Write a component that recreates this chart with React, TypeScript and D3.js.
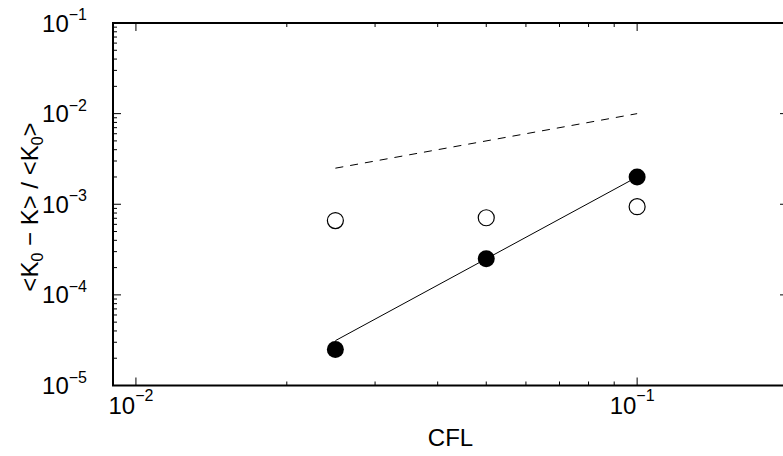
import React from "react";
import * as d3 from "d3";

const cfl = [0.025, 0.05, 0.1];
const errFilled = [2.5e-5, 2.5e-4, 2.0e-3];
const errOpen = [6.6e-4, 7.1e-4, 9.4e-4];
const slope3X = [0.025, 0.1];
const slope3Y = [3.125e-5, 2.0e-3];
const slope1X = [0.025, 0.1];
const slope1Y = [2.5e-3, 1.0e-2];
const xMajor = [0.01, 0.1];
const xMajorExp = ["−2", "−1"];
const yMajor = [1e-5, 1e-4, 1e-3, 1e-2, 1e-1];
const yMajorExp = ["−5", "−4", "−3", "−2", "−1"];

const W = 783, H = 456;
const L = 113, R = 788, T = 23, B = 385.5;
const FONT = "'Liberation Sans', Arial, Helvetica, sans-serif";

export default function App() {
  const x = d3.scaleLog().domain([0.009, 0.2]).range([L, R]);
  const y = d3.scaleLog().domain([1e-5, 1e-1]).range([B, T]);

  const xMinor: number[] = [];
  for (const dec of [0.001, 0.01, 0.1]) for (let k = 2; k <= 9; k++) {
    const v = k * dec;
    if (v > 0.009 && v < 0.2) xMinor.push(v);
  }
  const yMinor: number[] = [];
  for (const dec of [1e-5, 1e-4, 1e-3, 1e-2]) for (let k = 2; k <= 9; k++) yMinor.push(k * dec);

  const line = d3.line<[number, number]>().x(d => x(d[0])).y(d => y(d[1]));
  const l3 = line(slope3X.map((v, i) => [v, slope3Y[i]] as [number, number])) || "";
  const l1 = line(slope1X.map((v, i) => [v, slope1Y[i]] as [number, number])) || "";

  return (
    <svg width={W} height={H} style={{ position: "absolute", left: 0, top: 0, background: "#fff" }} fontFamily={FONT}>
      <rect x={0} y={0} width={W} height={H} fill="#fff" />
      {/* ticks */}
      <g stroke="#000" strokeWidth={1}>
        {xMajor.map((v, i) => (
          <g key={"xm" + i}>
            <line x1={x(v)} x2={x(v)} y1={B} y2={B - 8} />
            <line x1={x(v)} x2={x(v)} y1={T} y2={T + 8} />
          </g>
        ))}
        {xMinor.map((v, i) => (
          <g key={"xn" + i}>
            <line x1={x(v)} x2={x(v)} y1={B} y2={B - 4} />
            <line x1={x(v)} x2={x(v)} y1={T} y2={T + 4} />
          </g>
        ))}
        {yMajor.map((v, i) => (
          <g key={"ym" + i}>
            <line x1={L} x2={L + 8} y1={y(v)} y2={y(v)} />
            <line x1={R} x2={R - 8} y1={y(v)} y2={y(v)} />
          </g>
        ))}
        {yMinor.map((v, i) => (
          <g key={"yn" + i}>
            <line x1={L} x2={L + 4} y1={y(v)} y2={y(v)} />
            <line x1={R} x2={R - 4} y1={y(v)} y2={y(v)} />
          </g>
        ))}
      </g>
      {/* frame */}
      <rect x={L} y={T} width={R - L} height={B - T} fill="none" stroke="#000" strokeWidth={2} />
      {/* reference lines */}
      <path d={l1} fill="none" stroke="#000" strokeWidth={1} strokeDasharray="8,7" />
      <path d={l3} fill="none" stroke="#000" strokeWidth={1} />
      {/* markers */}
      {cfl.map((v, i) => (
        <circle key={"o" + i} cx={x(v)} cy={y(errOpen[i])} r={8} fill="#fff" stroke="#000" strokeWidth={1.2} />
      ))}
      {cfl.map((v, i) => (
        <circle key={"f" + i} cx={x(v)} cy={y(errFilled[i])} r={8.5} fill="#000" />
      ))}
      {/* tick labels */}
      {xMajor.map((v, i) => (
        <text key={"xl" + i} x={x(v) - 5} y={B + 28} textAnchor="middle" fontSize={24} fill="#000">
          10<tspan dy={-13} fontSize={16}>{xMajorExp[i]}</tspan>
        </text>
      ))}
      {yMajor.map((v, i) => (
        <text key={"yl" + i} x={87} y={y(v) + 8.6} textAnchor="end" fontSize={24} fill="#000">
          10<tspan dy={-11.6} fontSize={16}>{yMajorExp[i]}</tspan>
        </text>
      ))}
      {/* axis titles */}
      <text x={(L + R) / 2} y={446} textAnchor="middle" fontSize={24} fill="#000">CFL</text>
      <text transform={`translate(38,207) rotate(-90)`} textAnchor="middle" fontSize={24} fill="#000">
        &lt;K<tspan dy={5} fontSize={16}>0</tspan><tspan dy={-5}> − K&gt; / &lt;K</tspan><tspan dy={5} fontSize={16}>0</tspan><tspan dy={-5}>&gt;</tspan>
      </text>
    </svg>
  );
}
